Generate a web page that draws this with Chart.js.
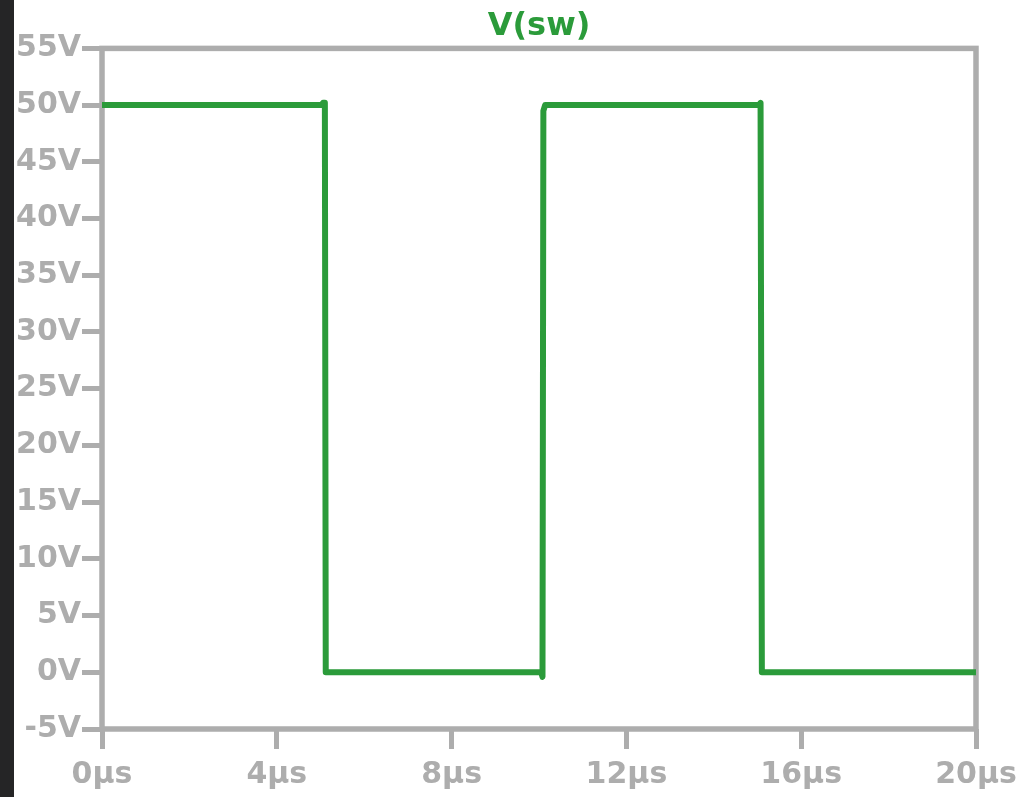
<!DOCTYPE html>
<html>
<head>
<meta charset="utf-8">
<script src="https://cdn.jsdelivr.net/npm/chart.js@4/dist/chart.umd.min.js"></script>
<style>
  html, body { margin: 0; padding: 0; background: #fff; }
  #wrap { width: 1018px; height: 797px; background: #fff; display: flex; }
  #strip { width: 14px; height: 797px; background: #252526; flex: none; }
  #box { width: 1004px; height: 797px; flex: none; }
  #myChart { display: block; }
</style>
</head>
<body>
<div id="wrap"><div id="strip"></div><div id="box"><canvas id="myChart" width="1004" height="797"></canvas></div></div>
<script>
// V(sw) switch node waveform, time in µs
const timeUs = [0, 5.02, 5.06, 5.1, 5.12, 10.05, 10.08, 10.1, 10.14, 10.2, 15.04, 15.07, 15.1, 20];
const swVolts = [50, 50, 50.2, 50.2, 0, 0, -0.4, 49.5, 50, 50, 50, 50.2, 0, 0];
const yTicks = [-5, 0, 5, 10, 15, 20, 25, 30, 35, 40, 45, 50, 55];
const xTicks = [0, 4, 8, 12, 16, 20];

const gray = '#adadad';
const green = '#2b9b3a';
const tickFont = { family: 'DejaVu Sans', size: 30, weight: 'bold' };

// draws the closed box round the plot area
const frame = {
  id: 'frame',
  beforeDatasetsDraw(chart) {
    const { ctx, chartArea: a } = chart;
    ctx.save();
    ctx.strokeStyle = gray;
    ctx.lineWidth = 5.5;
    ctx.strokeRect(a.left, a.top, a.right - a.left, a.bottom - a.top);
    ctx.restore();
  }
};

const ctx = document.getElementById('myChart').getContext('2d');
const myChart = new Chart(ctx, {
  type: 'line',
  data: {
    datasets: [{
      label: 'V(sw)',
      data: timeUs.map((t, i) => ({ x: t, y: swVolts[i] })),
      borderColor: green,
      borderWidth: 6,
      borderJoinStyle: 'round',
      pointRadius: 0,
      tension: 0,
      fill: false
    }]
  },
  options: {
    responsive: false,
    animation: false,
    layout: { padding: { top: 0, right: 42, bottom: 0, left: 0 } },
    scales: {
      x: {
        type: 'linear',
        min: 0,
        max: 20,
        afterBuildTicks: s => { s.ticks = xTicks.map(v => ({ value: v })); },
        afterFit: s => { s.height = 68; s.paddingLeft = 0; s.paddingRight = 0; },
        border: { display: false },
        grid: { drawOnChartArea: false, drawTicks: true, tickLength: 20, tickWidth: 5, tickColor: gray, lineWidth: 5, color: gray },
        ticks: { color: gray, font: tickFont, padding: 8, maxRotation: 0, callback: v => v + 'µs' }
      },
      y: {
        min: -5,
        max: 55,
        afterBuildTicks: s => { s.ticks = yTicks.map(v => ({ value: v })); },
        afterFit: s => { s.width = 88; s.paddingTop = 0; s.paddingBottom = 0; },
        border: { display: false },
        grid: { drawOnChartArea: false, drawTicks: true, tickLength: 20, tickWidth: 5, tickColor: gray, lineWidth: 5, color: gray },
        ticks: { color: gray, font: tickFont, padding: 1, callback: v => v + 'V' }
      }
    },
    plugins: {
      legend: { display: false },
      tooltip: { enabled: false },
      title: {
        display: true,
        text: 'V(sw)',
        color: green,
        fullSize: false,
        font: { family: 'DejaVu Sans', size: 32, weight: 'bold' },
        padding: { top: 7, bottom: 3 }
      }
    }
  },
  plugins: [frame]
});
</script>
</body>
</html>
